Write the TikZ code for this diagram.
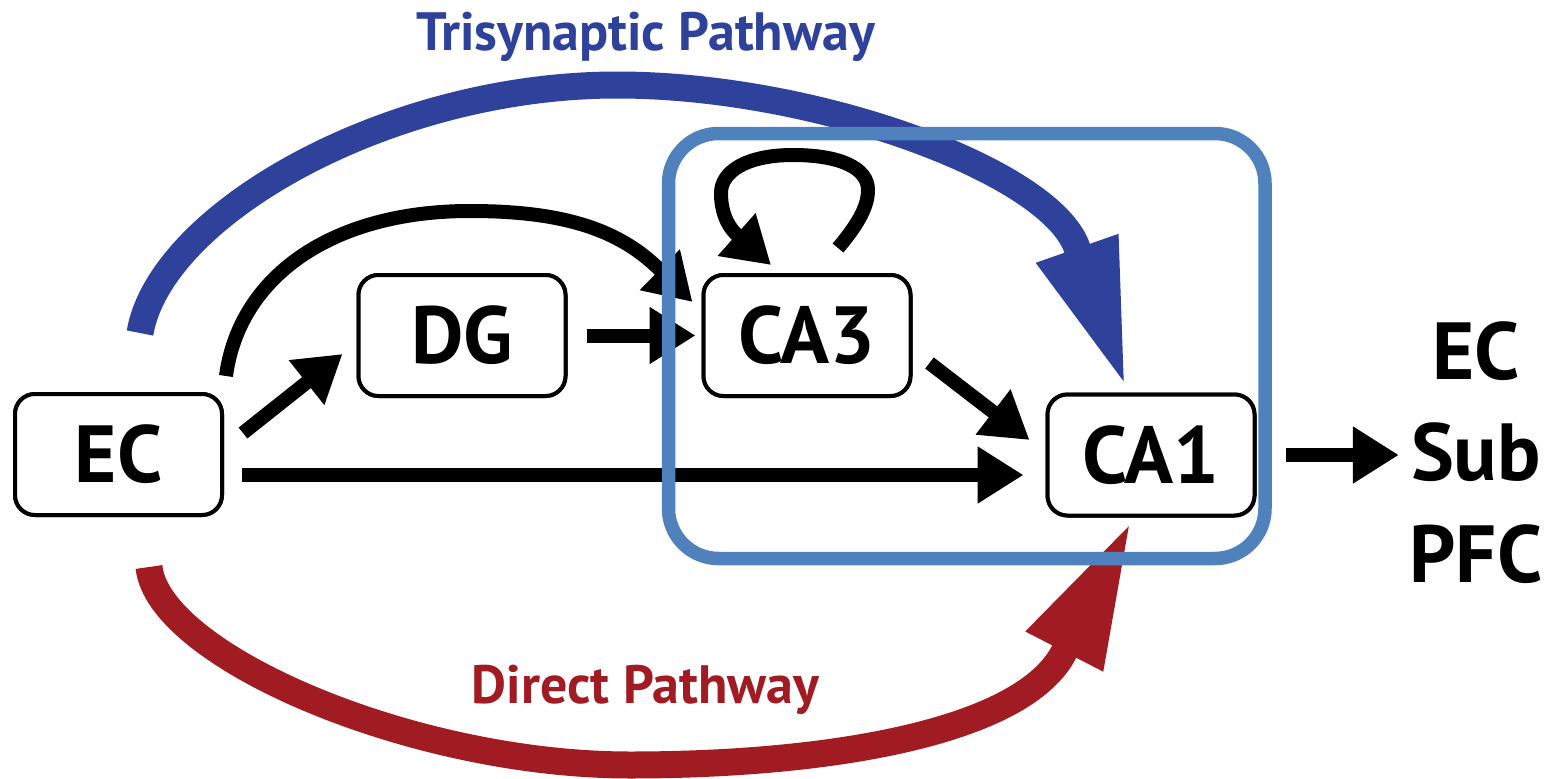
\documentclass[tikz,border=0pt]{standalone}
\usepackage{fontspec}
\setmainfont{PT Sans}
\usetikzlibrary{arrows.meta,calc}
\definecolor{triblue}{RGB}{46,65,155}
\definecolor{dirred}{RGB}{160,28,34}
\definecolor{frameblue}{RGB}{79,129,189}
\begin{document}
\begin{tikzpicture}[x=1pt,y=-1pt,
  region/.style={draw, line width=4pt, rounded corners=20pt, fill=white,
    minimum width=207pt, minimum height=121pt, inner sep=0pt,
    font=\fontsize{81}{81}\selectfont\bfseries},
  arr/.style={line width=14pt, -{Triangle[length=46pt,width=54pt]}},
  bigarr/.style={line width=27pt, -{Triangle[length=148pt,width=79pt]}},
  lbl/.style={inner sep=0pt, anchor=base, font=\fontsize{81}{81}\selectfont\bfseries},
  title/.style={inner sep=0pt, anchor=base, font=\fontsize{54}{54}\selectfont\bfseries},
  frame/.style={draw=frameblue, line width=13.5pt, rounded corners=50pt,
    minimum width=596.5pt, minimum height=425pt, inner sep=0pt}
]
\useasboundingbox (0,0) rectangle (1553,779);

% nodes
\node[region] (EC)  at (118.5,454.5) {EC};
\node[region] (DG)  at (462,335.5) {DG};
\node[region] (CA3) at (807,335.5) {CA3};
\node[region] (CA1) at (1151,455) {CA1};

\node[lbl] (rEC)  at (1476,379) {EC};
\node[lbl] (rSub) at (1476,480) {Sub};
\node[lbl] (rPFC) at (1476,582) {PFC};

\node[title, text=triblue] (tri) at (645.5,50) {Trisynaptic Pathway};
\node[title, text=dirred] (dir) at (645.5,703) {Direct Pathway};

% big pathways
\draw[bigarr, draw=triblue]
  ($(EC.north)+(21.5,-59)$) .. controls (160,215) and (387,85) .. (617,85)
  .. controls (817,85) and (1051,172) .. (1077,248) -- ($(CA1.north)+(-25,-4.5)$);
\draw[bigarr, draw=dirred]
  ($(EC.south)+(30.5,50)$) .. controls (158,655) and (410,765) .. (630,765)
  .. controls (830,765) and (1023,732) .. (1064,652) -- ($(CA1.south)+(-19,2.5)$);

% black connections
\draw[arr] ($(EC.north east)+(2,-16)$) .. controls (239,278) and (330,211) .. (470,211)
  .. controls (560,211) and (618,228) .. (660,270) -- ($(CA3.west)+(-9,-33.5)$);
\draw[arr] ($(EC.east)+(19,-21.5)$) -- ($(DG.west)+(-14,18.5)$);
\draw[arr] ($(DG.east)+(19,0)$) -- ($(CA3.west)+(-6,0)$);
\draw[arr] ($(CA3.east)+(17,27.5)$) -- ($(CA1.west)+(-16,-15)$);
\draw[arr] ($(EC.east)+(18,20.5)$) -- ($(CA1.west)+(-22,20)$);
\draw[arr] ($(CA1.east)+(29,0)$) -- ($(rSub.west |- CA1.east)+(-12,0)$);
\draw[arr] ($(CA3.north)+(31,-25)$) .. controls (860,222) and (868,205) .. (868,190)
  .. controls (868,168) and (840,155) .. (793,155)
  .. controls (746,155) and (721,172) .. (721,193)
  .. controls (721,210) and (726,224) .. (736,234) -- ($(CA3.north)+(-36,-8)$);

% redraw boxes on top of arrows
\node[region] at (EC) {EC};
\node[region] at (DG) {DG};
\node[region] at (CA3) {CA3};
\node[region] at (CA1) {CA1};

% hippocampus frame
\node[frame] (hip) at (966.75,346) {};
\end{tikzpicture}
\end{document}
